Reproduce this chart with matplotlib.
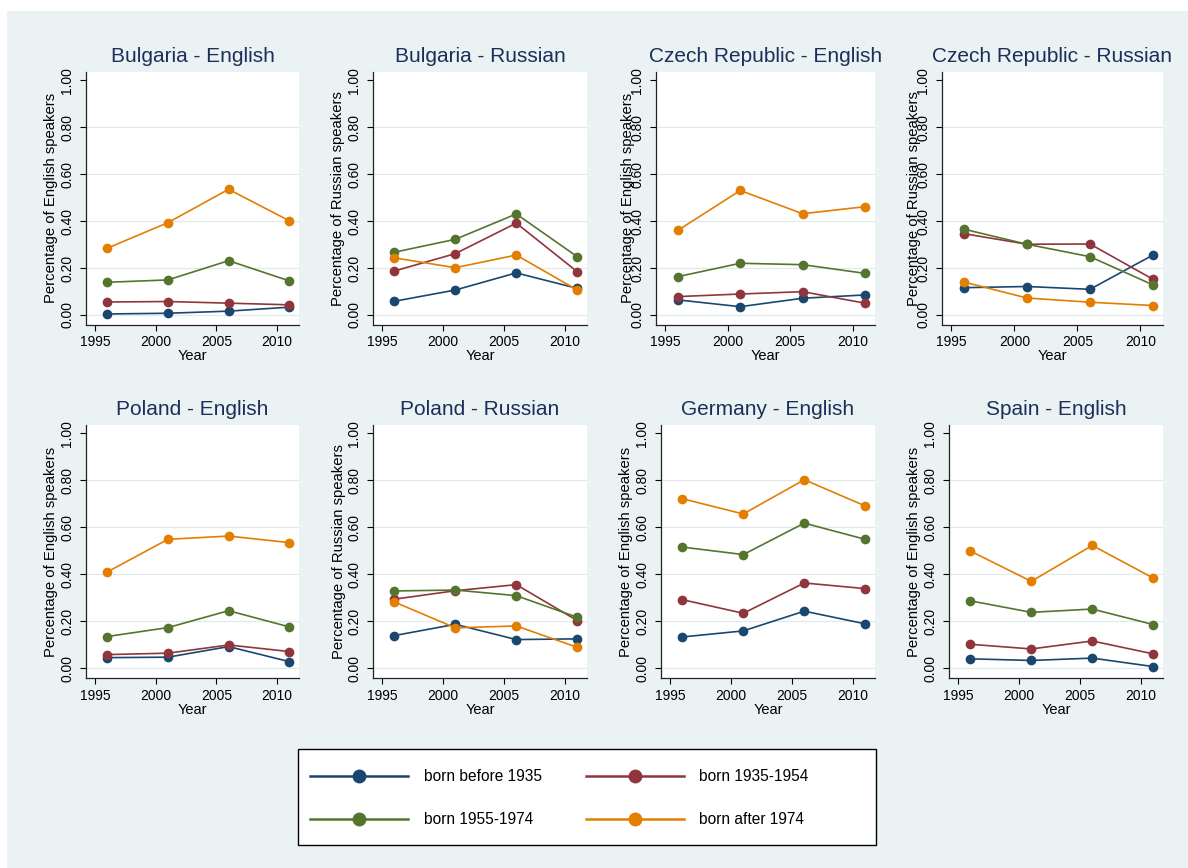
import matplotlib
matplotlib.use('Agg')
import matplotlib.pyplot as plt
from matplotlib.patches import Rectangle
from matplotlib.lines import Line2D

plt.rcParams['font.family'] = ['Liberation Sans', 'DejaVu Sans']

years = [1996, 2001, 2006, 2011]
cohorts = ['born before 1935', 'born 1935-1954', 'born 1955-1974', 'born after 1974']
colors = ['#1a476f', '#90353b', '#55752f', '#e37e00']

# rows = cohorts (before 1935, 1935-54, 1955-74, after 1974), cols = years
bulgaria_en = [[0.004, 0.007, 0.016, 0.033],
               [0.055, 0.057, 0.050, 0.043],
               [0.139, 0.149, 0.231, 0.145],
               [0.284, 0.393, 0.535, 0.401]]
bulgaria_ru = [[0.058, 0.106, 0.179, 0.113],
               [0.187, 0.261, 0.391, 0.184],
               [0.267, 0.322, 0.430, 0.248],
               [0.243, 0.201, 0.255, 0.106]]
czech_en = [[0.064, 0.035, 0.071, 0.085],
            [0.078, 0.089, 0.099, 0.050],
            [0.163, 0.220, 0.214, 0.177],
            [0.360, 0.530, 0.431, 0.461]]
czech_ru = [[0.116, 0.121, 0.109, 0.255],
            [0.346, 0.301, 0.302, 0.152],
            [0.365, 0.301, 0.248, 0.128],
            [0.140, 0.072, 0.054, 0.040]]
poland_en = [[0.045, 0.047, 0.092, 0.028],
             [0.058, 0.064, 0.099, 0.071],
             [0.135, 0.173, 0.245, 0.176],
             [0.410, 0.549, 0.563, 0.535]]
poland_ru = [[0.139, 0.187, 0.122, 0.125],
             [0.294, 0.330, 0.356, 0.203],
             [0.329, 0.333, 0.309, 0.217],
             [0.282, 0.172, 0.180, 0.089]]
germany_en = [[0.133, 0.159, 0.243, 0.189],
              [0.292, 0.234, 0.363, 0.339],
              [0.516, 0.484, 0.618, 0.549],
              [0.722, 0.657, 0.803, 0.691]]
spain_en = [[0.040, 0.033, 0.043, 0.007],
            [0.102, 0.082, 0.116, 0.061],
            [0.287, 0.238, 0.252, 0.186],
            [0.499, 0.370, 0.523, 0.384]]

titles = ['Bulgaria - English', 'Bulgaria - Russian', 'Czech Republic - English',
          'Czech Republic - Russian', 'Poland - English', 'Poland - Russian',
          'Germany - English', 'Spain - English']
panels = [bulgaria_en, bulgaria_ru, czech_en, czech_ru,
          poland_en, poland_ru, germany_en, spain_en]
languages = ['English', 'Russian', 'English', 'Russian',
             'English', 'Russian', 'English', 'English']

W, H = 1188, 868
bg = '#eaf2f3'
title_color = '#1c2f5a'

fig = plt.figure(figsize=(W / 100, H / 100), dpi=100)
fig.patch.set_facecolor('white')
fig.add_artist(Rectangle((7 / W, 0), 1, 1 - 11 / H, transform=fig.transFigure,
                         facecolor=bg, edgecolor='none', zorder=0))

# axes boxes in pixels: left, width, ylabel anchor offset
top_b, bot_b, ax_h = 325, 678.3, 253.3
boxes = [(86, 213, 28), (373, 214, 28), (656, 219, 21), (942, 221, 21),
         (86, 213, 28), (373, 214, 27), (661, 214, 28), (949, 214, 28)]

for i, (data, title, lang) in enumerate(zip(panels, titles, languages)):
    left, width, lab_off = boxes[i]
    bottom = top_b if i < 4 else bot_b
    ax = fig.add_axes([left / W, 1 - bottom / H, width / W, ax_h / H])
    ax.set_facecolor('white')
    for k in range(4):
        ax.plot(years, data[k], color=colors[k], lw=1.2, marker='o', ms=7,
                markeredgewidth=0, zorder=3 + k)
    ax.set_xlim(1994.25, 2011.8)
    ax.set_ylim(-0.043, 1.036)
    ax.set_xticks([1995, 2000, 2005, 2010])
    ax.set_yticks([0, 0.2, 0.4, 0.6, 0.8, 1.0])
    ax.set_yticklabels([f'{v:.2f}' for v in [0, 0.2, 0.4, 0.6, 0.8, 1.0]],
                       rotation=90, va='center')
    ax.tick_params(axis='both', direction='out', length=4.5, width=0.8,
                   labelsize=10, colors='black', pad=3)
    ax.tick_params(axis='y', pad=4)
    ax.grid(axis='y', color='#e0eaec', lw=0.9, zorder=0)
    ax.get_ygridlines()[-1].set_visible(False)
    for s in ['top', 'right']:
        ax.spines[s].set_visible(False)
    for s in ['left', 'bottom']:
        ax.spines[s].set_linewidth(0.9)
        ax.spines[s].set_color('#222222')
    ax.set_title(title, fontsize=15, color=title_color, pad=7)
    ax.set_xlabel('Year', fontsize=10.5, labelpad=0)
    ax.set_ylabel(f'Percentage of {lang} speakers', fontsize=10.7)
    ax.yaxis.set_label_coords(-lab_off / width, 0.5)

# legend box
fig.add_artist(Rectangle((298 / W, 1 - 845 / H), (876 - 298) / W, (845 - 749) / H,
                         transform=fig.transFigure, facecolor='white',
                         edgecolor='black', lw=1.0, zorder=1))
handles = [Line2D([], [], color=c, lw=1.8, marker='o', ms=10, markeredgewidth=0)
           for c in colors]
order = [0, 2, 1, 3]  # fill rows first, like the original
fig.legend([handles[j] for j in order], [cohorts[j] for j in order], ncol=2,
           frameon=False, fontsize=11.2,
           loc='upper left', bbox_to_anchor=(298 / W, 1 - 757 / H),
           handlelength=6.3, handletextpad=1.0, columnspacing=2.8,
           labelspacing=1.8, borderpad=0.3)

fig.savefig('out.png', dpi=100, facecolor=fig.get_facecolor())
